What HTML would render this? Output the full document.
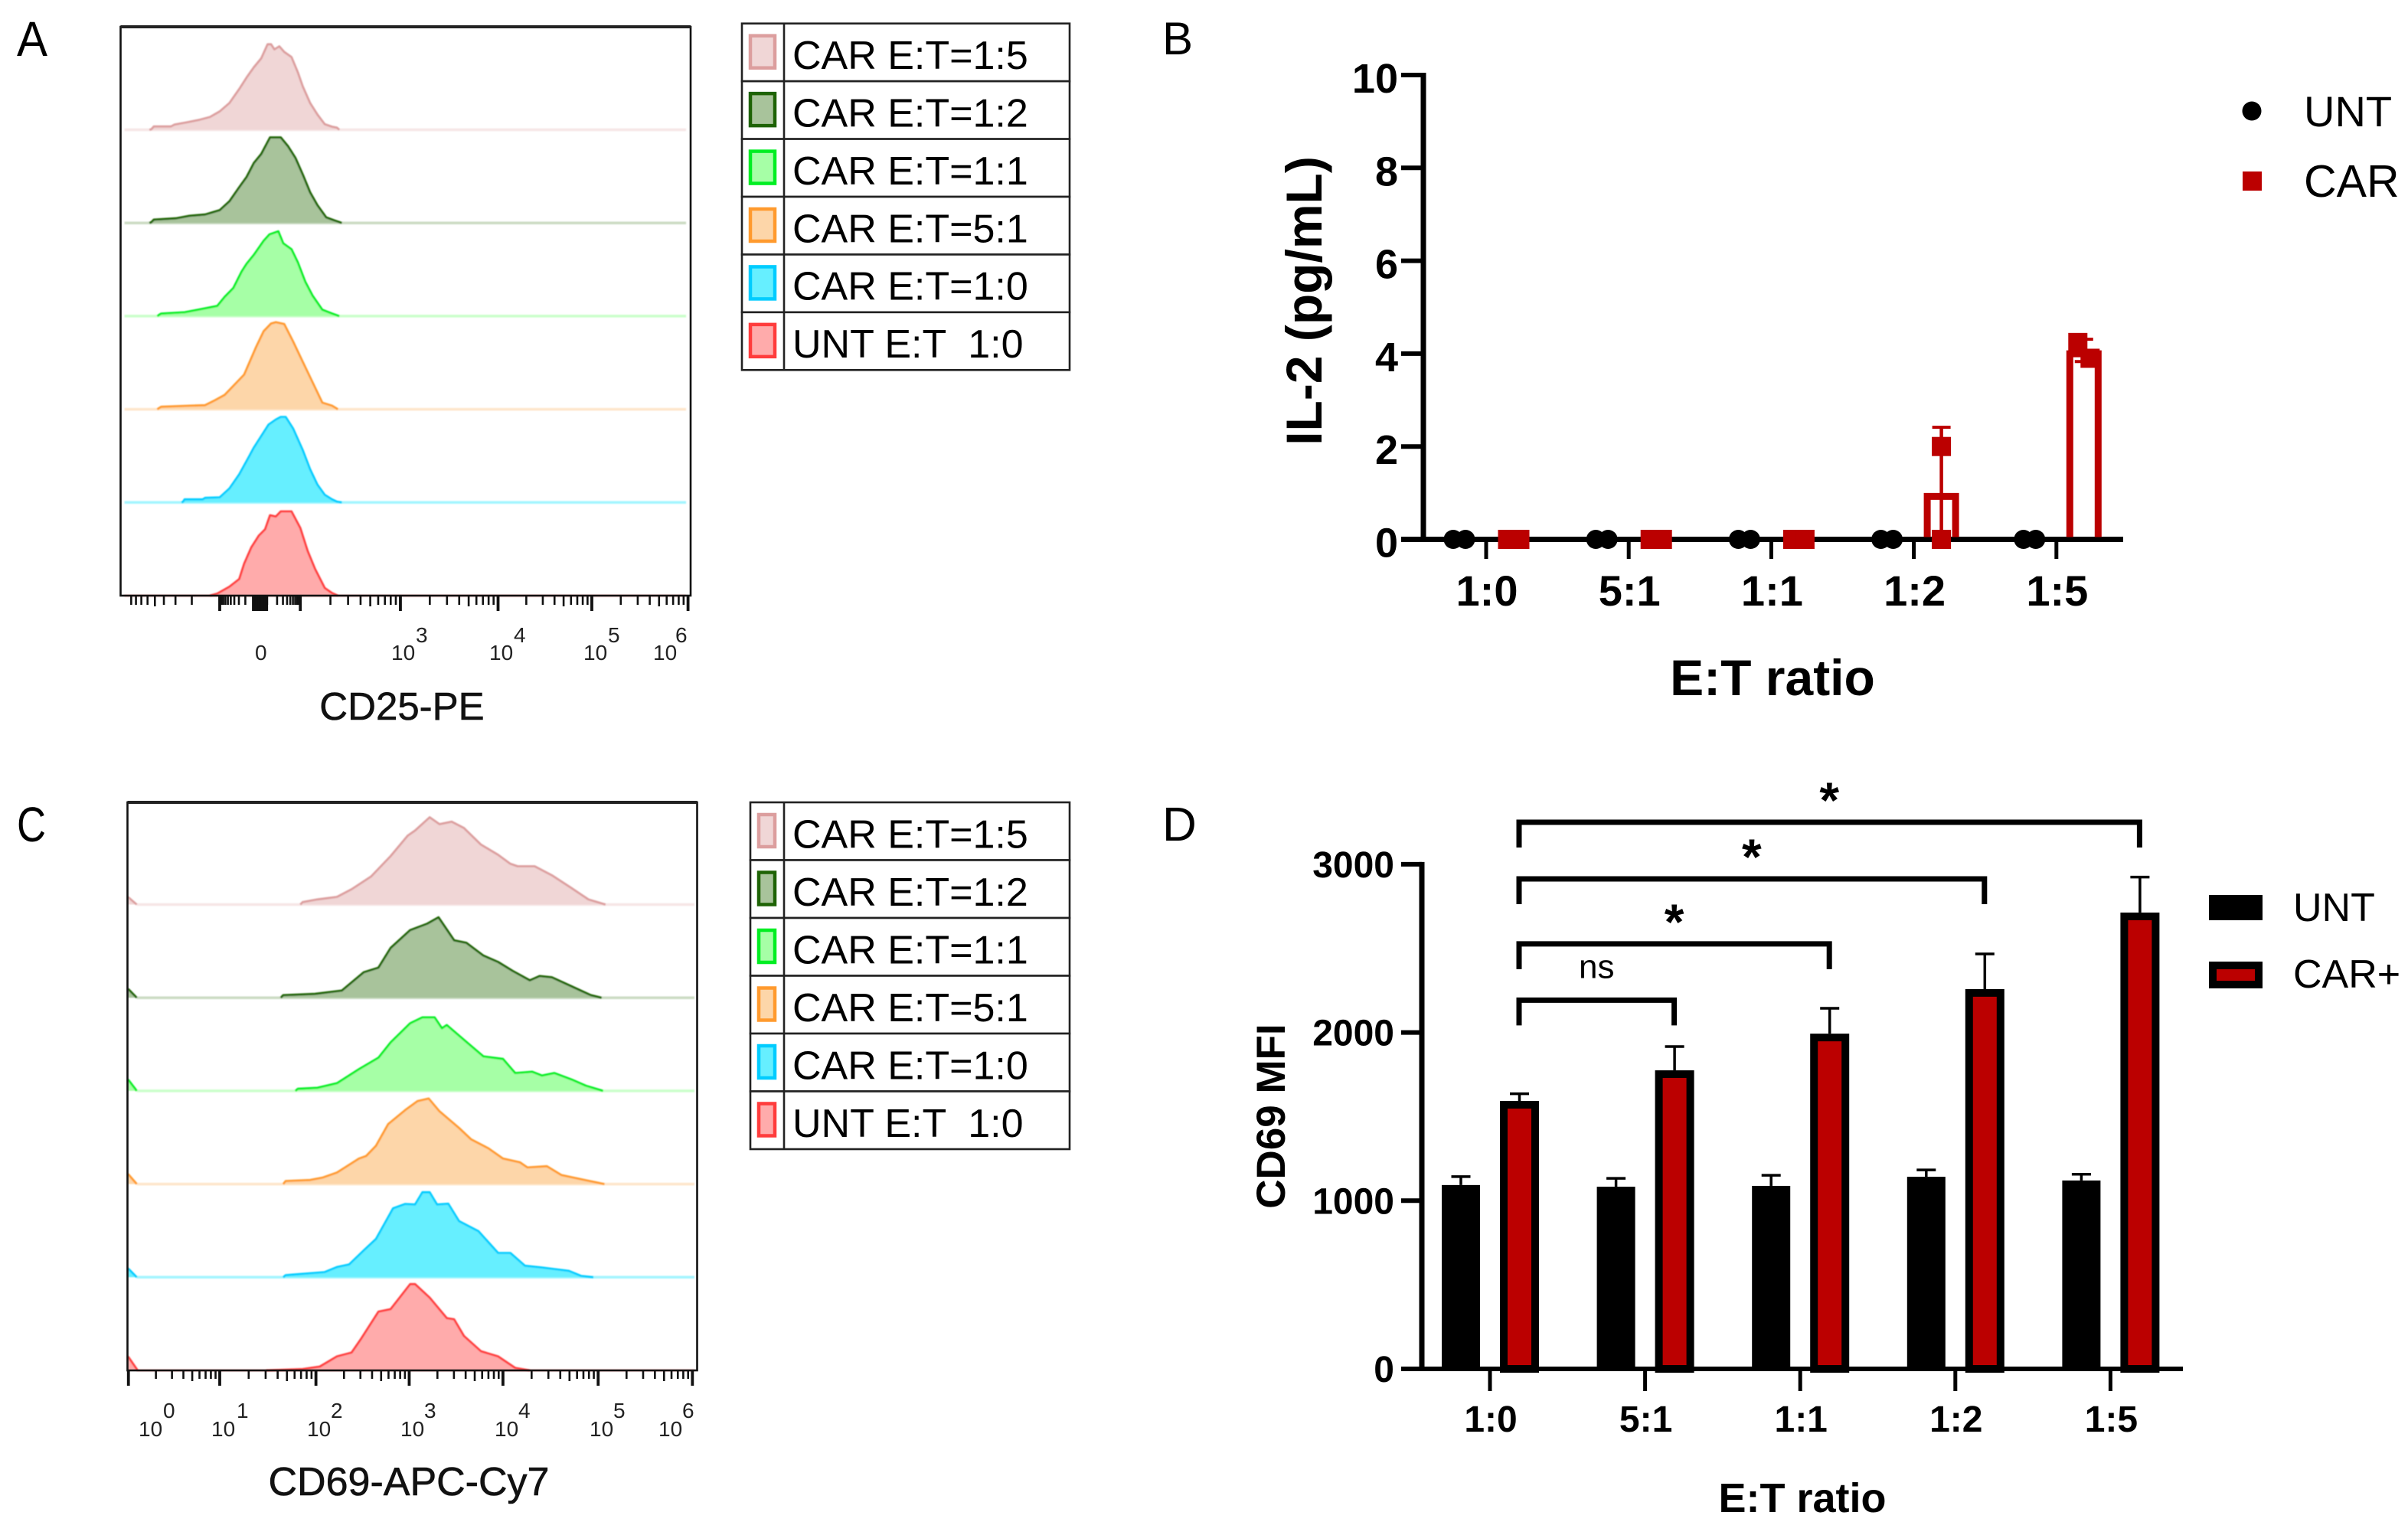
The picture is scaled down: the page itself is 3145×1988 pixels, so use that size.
<!DOCTYPE html>
<html lang="en">
<head>
<meta charset="utf-8">
<title>CD25, IL-2 and CD69 response by E:T ratio</title>
<style>
html,body{margin:0;padding:0;background:#fff}
svg{display:block}
text{font-family:"Liberation Sans",Arial,sans-serif}
</style>
</head>
<body>
<svg id="figure" xmlns="http://www.w3.org/2000/svg" width="3145" height="1988" viewBox="0 0 3145 1988">
<defs><filter id="soft" x="-2%" y="-2%" width="104%" height="104%"><feGaussianBlur stdDeviation="0.7"/></filter></defs>
<rect x="0" y="0" width="3145" height="1988" fill="#fff"/>

<text x="22" y="73" font-size="64" textLength="40" lengthAdjust="spacingAndGlyphs">A</text>
<text x="1518" y="71" font-size="60">B</text>
<text x="22" y="1099" font-size="64" textLength="38" lengthAdjust="spacingAndGlyphs">C</text>
<text x="1518" y="1098" font-size="62">D</text>

<g font-size="28" fill="#222">
<text x="333" y="862">0</text>
<text><tspan x="511" y="862">10</tspan><tspan x="543" y="839">3</tspan></text>
<text><tspan x="639" y="862">10</tspan><tspan x="671" y="839">4</tspan></text>
<text><tspan x="762" y="862">10</tspan><tspan x="794" y="839">5</tspan></text>
<text><tspan x="853" y="862">10</tspan><tspan x="882" y="839">6</tspan></text>
</g>
<text x="525" y="940" font-size="51" text-anchor="middle" fill="#111" stroke="#111" stroke-width="0.6">CD25-PE</text>

<g font-size="28" fill="#222">
<text><tspan x="181" y="1876">10</tspan><tspan x="213" y="1852">0</tspan></text>
<text><tspan x="276" y="1876">10</tspan><tspan x="309" y="1852">1</tspan></text>
<text><tspan x="401" y="1876">10</tspan><tspan x="432" y="1852">2</tspan></text>
<text><tspan x="523" y="1876">10</tspan><tspan x="554" y="1852">3</tspan></text>
<text><tspan x="646" y="1876">10</tspan><tspan x="677" y="1852">4</tspan></text>
<text><tspan x="770" y="1876">10</tspan><tspan x="801" y="1852">5</tspan></text>
<text><tspan x="860" y="1876">10</tspan><tspan x="891" y="1852">6</tspan></text>
</g>
<text x="534" y="1953" font-size="52" text-anchor="middle" fill="#111" stroke="#111" stroke-width="0.6">CD69-APC-Cy7</text>

<text transform="translate(1726 393) rotate(-90)" font-size="66" font-weight="700" text-anchor="middle">IL-2 (pg/mL)</text>
<text x="2315" y="908" font-size="66" font-weight="700" text-anchor="middle">E:T ratio</text>
<text transform="translate(1678 1458) rotate(-90)" font-size="53" font-weight="700" text-anchor="middle">CD69 MFI</text>
<text x="2354" y="1975" font-size="54" font-weight="700" text-anchor="middle">E:T ratio</text>

<g>
<circle cx="2941" cy="145" r="12.5" fill="#000"/>
<text x="3009" y="165" font-size="56">UNT</text>
<rect x="2929" y="224" width="25" height="25" fill="#bb0000"/>
<text x="3009" y="257" font-size="59">CAR</text>
</g>
<g>
<rect x="2885" y="1169" width="70" height="33" fill="#000"/>
<text x="2995" y="1203" font-size="52">UNT</text>
<rect x="2890" y="1261" width="60" height="25" fill="#bb0000" stroke="#000" stroke-width="10"/>
<text x="2995" y="1290" font-size="52">CAR+</text>
</g>
</svg>

<script>
// ---- Panel A: CD25-PE histograms (channel, count) ----
const cd25Car15Channels = [306,310,315,350,357,385,410,430,450,470,490,505,520,535,548,555,562,572,582,597,610,620,635,650,665,680,690,695];
const cd25Car15Counts   = [0,2,13,13,20,30,40,50,72,105,160,205,245,280,335,335,315,327,305,285,225,170,105,60,22,12,8,0];
const cd25Car12Channels = [306,310,315,360,388,420,450,470,490,505,520,535,553,575,590,605,620,635,650,668,685,700];
const cd25Car12Counts   = [0,3,13,18,28,33,50,85,140,180,235,270,335,335,300,255,190,120,70,22,10,0];
const cd25Car11Channels = [322,325,330,378,405,445,460,478,495,505,520,540,552,570,580,597,610,625,640,660,680,695];
const cd25Car11Counts   = [0,4,10,15,25,40,75,110,175,205,240,295,320,332,285,262,210,135,80,25,10,0];
const cd25Car51Channels = [322,325,330,390,420,440,460,485,500,525,540,555,565,582,600,620,640,660,680,692];
const cd25Car51Counts   = [0,4,10,14,16,35,56,106,136,246,306,336,341,334,266,186,106,26,14,0];
const cd25Car10Channels = [372,375,378,415,420,450,470,490,510,520,535,550,565,575,585,600,620,635,650,665,680,690,700];
const cd25Car10Counts   = [0,3,12,12,18,20,55,110,180,215,260,305,325,335,335,290,205,130,70,30,12,3,0];
const cd25Unt10Channels = [430,445,470,490,500,515,530,543,553,565,575,597,615,630,645,665,680,692];
const cd25Unt10Counts   = [0,8,35,65,125,190,235,260,315,310,330,330,265,175,105,30,10,0];

// ---- Panel C: CD69-APC-Cy7 histograms (channel, count) ----
const cd69Car15Channels = [262,280,615,620,650,690,720,760,800,835,850,880,900,925,950,985,1020,1045,1060,1095,1130,1170,1205,1240];
const cd69Car15Counts   = [30,0,0,10,20,30,60,110,190,270,290,342,315,325,300,235,195,160,150,150,115,65,20,0];
const cd69Car12Channels = [262,280,575,580,645,700,745,775,800,840,875,898,930,955,990,1020,1050,1085,1105,1130,1170,1210,1232];
const cd69Car12Counts   = [35,0,0,10,15,28,100,118,195,265,290,315,225,215,165,140,105,68,85,80,45,10,0];
const cd69Car11Channels = [262,280,605,610,650,690,735,775,800,840,865,890,905,915,950,990,1030,1055,1090,1110,1135,1170,1200,1235];
const cd69Car11Counts   = [45,0,0,8,12,30,85,130,190,265,288,288,245,258,200,135,125,70,75,60,70,45,20,0];
const cd69Car51Channels = [262,280,580,585,635,660,690,735,750,770,795,830,855,878,900,940,965,1000,1030,1065,1080,1120,1150,1200,1238];
const cd69Car51Counts   = [40,0,0,12,16,25,45,100,110,150,235,290,325,335,285,220,175,140,100,85,65,70,35,15,0];
const cd69Car10Channels = [262,280,580,585,625,665,690,715,745,770,805,830,850,865,880,895,918,940,980,1020,1045,1075,1110,1165,1190,1215];
const cd69Car10Counts   = [35,0,0,8,14,20,40,50,105,150,270,287,285,333,333,285,288,220,180,95,95,45,38,25,5,0];
const cd69Unt10Channels = [262,282,545,620,655,690,720,740,775,800,840,850,880,915,930,950,985,1020,1055,1085];
const cd69Unt10Counts   = [55,0,0,5,15,55,70,125,230,240,338,338,285,205,200,135,75,55,10,0];

const histLabels = ['CAR E:T=1:5','CAR E:T=1:2','CAR E:T=1:1','CAR E:T=5:1','CAR E:T=1:0','UNT E:T  1:0'];
const histKeys   = ['car-1-5','car-1-2','car-1-1','car-5-1','car-1-0','unt-1-0'];
const lineColors = ['#dc9e9e','#1e6305','#00ee22','#ff9a2e','#00ccff','#ff3c3c'];
const fillColors = ['#f0d6d6','#a8c39b','#a6ffa6','#fdd6a9','#66efff','#ffabab'];

// ---- Panel B: IL-2 ----
const ratioLabels = ['1:0','5:1','1:1','1:2','1:5'];
const il2YTicks   = [0,2,4,6,8,10];
const il2Unt10 = [0,0];
const il2Unt51 = [0,0];
const il2Unt11 = [0,0];
const il2Unt12 = [0,0];
const il2Unt15 = [0,0];
const il2Car10 = [0,0];
const il2Car51 = [0,0];
const il2Car11 = [0,0];
const il2Car12 = [0,2];
const il2Car15 = [4.24,3.9];

// ---- Panel D: CD69 MFI ----
const mfiYTicks  = [0,1000,2000,3000];
const mfiUntMean = [1093,1083,1088,1142,1120];
const mfiUntSd   = [50,50,63,41,37];
const mfiCarMean = [1593,1775,1993,2258,2713];
const mfiCarSd   = [43,141,151,209,211];
const sigToIndex = [1,2,3,4];
const sigLevels  = [2192,2527,2913,3250];
const sigLabels  = ['ns','*','*','*'];

// ---- helpers ----
const svg = document.getElementById('figure');
const NS = 'http://www.w3.org/2000/svg';
function make(tag, attrs, parent, text) {
  const n = document.createElementNS(NS, tag);
  for (const k in attrs) n.setAttribute(k, attrs[k]);
  if (text !== undefined) n.textContent = text;
  (parent || svg).appendChild(n);
  return n;
}
function log10(v) { return Math.log(v) / Math.LN10; }

// ---- flow-cytometry axes ----
const chX = function (c) { return c / 1.568; };
const countPx = function (c) { return c / 3; };
const rowStep = 121.7;

function drawHistogramPanel(panel, boxLeft, boxRight, boxTop, boxBottom, lineStart, lineEnd, channels, counts) {
  const g = make('g', {filter: 'url(#soft)'});
  
  
  channels.forEach(function (xs, i) {
    const hs = counts[i];
    const base = boxBottom - (5 - i) * rowStep;
    const row = make('g', {}, g);
    
    
    const band = make('line', {x1: chX(lineStart), x2: chX(lineEnd), y1: base, y2: base, stroke: fillColors[i], 'stroke-width': 3.5, 'stroke-opacity': 0.6}, row);
    
    
    let area = 'M' + chX(xs[0]) + ' ' + base;
    xs.forEach(function (x, j) { area += 'L' + chX(x).toFixed(1) + ' ' + (base - countPx(hs[j])).toFixed(1); });
    area += 'L' + chX(xs[xs.length - 1]) + ' ' + base + 'Z';
    const fill = make('path', {d: area, fill: fillColors[i]}, row);
    
    
    let outline = '';
    let pen = false;
    xs.forEach(function (x, j) {
      const flat = hs[j] === 0 && (j === xs.length - 1 || hs[j + 1] === 0);
      const pt = chX(x).toFixed(1) + ' ' + (base - countPx(hs[j])).toFixed(1);
      if (!pen) { outline += 'M' + pt; pen = true; } else { outline += 'L' + pt; }
      if (flat) pen = false;
    });
    const curve = make('path', {d: outline, fill: 'none', stroke: lineColors[i], 'stroke-width': 2.8, 'stroke-linejoin': 'round'}, row);
    
    
  });
  const box = make('rect', {x: boxLeft, y: boxTop, width: boxRight - boxLeft, height: boxBottom - boxTop, fill: 'none', stroke: '#111', 'stroke-width': 2.6});
  
  
  const topEdge = make('line', {x1: boxLeft, x2: boxRight, y1: boxTop, y2: boxTop, stroke: '#222', 'stroke-width': 4});
  
  
}

function drawTick(panel, channel, y0, y1, w, kind) {
  const t = make('line', {x1: chX(channel), x2: chX(channel), y1: y0, y2: y1, stroke: '#111', 'stroke-width': w});
  
  
}
function drawLogTicks(panel, startCh, endCh, y0, yMinor, yMid) {
  for (let m = 2; m <= 9; m++) {
    drawTick(panel, startCh + (endCh - startCh) * log10(m), y0, m === 5 ? yMid : yMinor, 2.6, 'minor');
  }
}

drawHistogramPanel('panel-a', 157.5, 902, 35, 778, 255, 1405,
  [cd25Car15Channels, cd25Car12Channels, cd25Car11Channels, cd25Car51Channels, cd25Car10Channels, cd25Unt10Channels],
  [cd25Car15Counts, cd25Car12Counts, cd25Car11Counts, cd25Car51Counts, cd25Car10Counts, cd25Unt10Counts]);

drawHistogramPanel('panel-c', 166.5, 910.5, 1048, 1790, 280, 1422,
  [cd69Car15Channels, cd69Car12Channels, cd69Car11Channels, cd69Car51Channels, cd69Car10Channels, cd69Unt10Channels],
  [cd69Car15Counts, cd69Car12Counts, cd69Car11Counts, cd69Car51Counts, cd69Car10Counts, cd69Unt10Counts]);

// Panel A ticks (biexponential)
const cd25Majors = [450,615,820,1020,1212,1409];
const linearTicks = [10,20,30,40,50,60,70,80,90];
cd25Majors.forEach(function (c) { drawTick('panel-a', c, 778, 798, 3.8, 'major'); });
for (let c = 519; c <= 546; c += 3) drawTick('panel-a', c, 778, 798, 3.8, 'zero-band');
drawLogTicks('panel-a', 820, 1020, 778, 790, 792);
drawLogTicks('panel-a', 1020, 1212, 778, 790, 792);
drawLogTicks('panel-a', 1212, 1409, 778, 790, 792);
drawLogTicks('panel-a', 615, 820, 778, 790, 792);
drawLogTicks('panel-a', 450, 260, 778, 790, 792);
linearTicks.forEach(function (t) {
  drawTick('panel-a', 450 + 75 * log10(100 / t), 778, 790, 2.6, 'minor');
  drawTick('panel-a', 615 - 68 * log10(100 / t), 778, 790, 2.6, 'minor');
});

// Panel C ticks (log)
const cd69Majors = [263,450,647,838,1030,1225,1418];
cd69Majors.forEach(function (c, i) {
  drawTick('panel-c', c, 1790, 1810, 3.8, 'major');
  if (i < cd69Majors.length - 1) drawLogTicks('panel-c', c, cd69Majors[i + 1], 1790, 1801, 1804);
});

// Flow legends
function drawHistLegend(panel, left, divider, right, top, bottom, swatchLeft, swatchRight, swatchPad) {
  const g = make('g', {});
  
  
  const rowH = (bottom - top) / histLabels.length;
  histLabels.forEach(function (label, i) {
    const y = top + i * rowH;
    const cell = make('rect', {x: left, y: y, width: right - left, height: rowH, fill: '#fff', stroke: '#222', 'stroke-width': 2.6}, g);
    
    
    const swatch = make('rect', {x: swatchLeft, y: y + swatchPad, width: swatchRight - swatchLeft, height: 42, fill: fillColors[i], stroke: lineColors[i], 'stroke-width': 4.5}, g);
    
    
    const text = make('text', {x: 1035, y: y + 59.3, 'font-size': 52, 'xml:space': 'preserve', style: 'white-space:pre'}, g, label);
    
    
  });
  const div = make('line', {x1: divider, x2: divider, y1: top, y2: bottom, stroke: '#222', 'stroke-width': 2.6}, g);
  
  
}
drawHistLegend('panel-a', 969, 1024, 1397, 30.7, 483.3, 980, 1012, 16);
drawHistLegend('panel-c', 980, 1024, 1397, 1048, 1501, 991, 1012, 16);

// ---- Panel B ----
const il2Ticks = function (i) { return 1941 + i * 186.2; };
const yIl2 = function (v) { return 704.5 - 60.65 * v; };
const il2UntSets = [il2Unt10, il2Unt51, il2Unt11, il2Unt12, il2Unt15];
const il2CarSets = [il2Car10, il2Car51, il2Car11, il2Car12, il2Car15];
function mean(a) { return a.reduce(function (s, v) { return s + v; }, 0) / a.length; }
function stdev(a) {
  const m = mean(a);
  return Math.sqrt(a.reduce(function (s, v) { return s + (v - m) * (v - m); }, 0) / (a.length - 1));
}
function swarmOffset(a, j) {
  return Math.abs(a[0] - a[1]) < 0.45 ? (j === 0 ? -8 : 8) : 0;
}

const il2YAxis = make('line', {x1: 1859, x2: 1859, y1: yIl2(10) - 3, y2: yIl2(0), stroke: '#000', 'stroke-width': 7});


const il2XAxis = make('line', {x1: 1830, x2: 2773, y1: yIl2(0), y2: yIl2(0), stroke: '#000', 'stroke-width': 7});


il2YTicks.forEach(function (v) {
  const t = make('line', {x1: 1830, x2: 1859, y1: yIl2(v), y2: yIl2(v), stroke: '#000', 'stroke-width': 6});
  
  
  const l = make('text', {x: 1826, y: yIl2(v) + 23, 'font-size': 54, 'font-weight': 700, 'text-anchor': 'end'}, svg, String(v));
  
  
});
ratioLabels.forEach(function (label, i) {
  const tx = il2Ticks(i);
  const t = make('line', {x1: tx, x2: tx, y1: 704, y2: 730, stroke: '#000', 'stroke-width': 5});
  
  
  const l = make('text', {x: tx + 1, y: 791, 'font-size': 56, 'font-weight': 700, 'text-anchor': 'middle'}, svg, label);
  
  

  const cx = tx + 36;
  const car = il2CarSets[i];
  const m = mean(car);
  const sd = stdev(car);
  if (m > 0) {
    const topY = yIl2(m) + 4.5;
    const bar = make('path', {d: 'M' + (cx - 18.5) + ' ' + (yIl2(0) - 3) + 'V' + topY + 'H' + (cx + 18.5) + 'V' + (yIl2(0) - 3), fill: 'none', stroke: '#bb0000', 'stroke-width': 9});
    
    
    const hi = m + sd;
    const lo = Math.max(0, m - sd);
    const stem = make('line', {x1: cx, x2: cx, y1: yIl2(hi), y2: yIl2(lo), stroke: '#bb0000', 'stroke-width': 4.5});
    
    
    const capHi = make('line', {x1: cx - 12, x2: cx + 12, y1: yIl2(hi), y2: yIl2(hi), stroke: '#bb0000', 'stroke-width': 4});
    
    
    const capLo = make('line', {x1: cx - 12, x2: cx + 12, y1: yIl2(lo), y2: yIl2(lo), stroke: '#bb0000', 'stroke-width': 4});
    
    
  }
  car.forEach(function (v, j) {
    const sq = make('rect', {x: cx + swarmOffset(car, j) - 12.5, y: yIl2(v) - 12.5, width: 25, height: 25, fill: '#bb0000'});
    
    
  });
  const unt = il2UntSets[i];
  unt.forEach(function (v, j) {
    const c = make('circle', {cx: tx - 35 + swarmOffset(unt, j), cy: yIl2(v), r: 12.5, fill: '#000'});
    
    
  });
});

// ---- Panel D ----
const mfiTick = function (i) { return 1946 + i * 202.6; };
const yMfi = function (v) { return 1788 - 0.2197 * v; };

function drawErrorBar(name, cx, fromV, toV) {
  const stem = make('line', {x1: cx, x2: cx, y1: yMfi(fromV), y2: yMfi(toV), stroke: '#000', 'stroke-width': 3.5});
  
  
  const cap = make('line', {x1: cx - 12.5, x2: cx + 12.5, y1: yMfi(toV), y2: yMfi(toV), stroke: '#000', 'stroke-width': 3.5});
  
  
}

ratioLabels.forEach(function (label, i) {
  const tx = mfiTick(i);
  const ux = tx - 38;
  const cx = tx + 38.5;
  drawErrorBar('mfi-error-bar-unt-' + label, ux, mfiUntMean[i], mfiUntMean[i] + mfiUntSd[i]);
  drawErrorBar('mfi-error-bar-car-' + label, cx, mfiCarMean[i], mfiCarMean[i] + mfiCarSd[i]);
  const ub = make('rect', {x: ux - 25, y: yMfi(mfiUntMean[i]), width: 50, height: yMfi(0) - yMfi(mfiUntMean[i]), fill: '#000'});
  
  
  const cb = make('rect', {x: cx - 20.5, y: yMfi(mfiCarMean[i]) + 5, width: 41, height: yMfi(0) - yMfi(mfiCarMean[i]) - 5, fill: '#bb0000', stroke: '#000', 'stroke-width': 10});
  
  
  const t = make('line', {x1: tx, x2: tx, y1: 1788, y2: 1817, stroke: '#000', 'stroke-width': 5});
  
  
  const l = make('text', {x: tx + 1, y: 1870, 'font-size': 48, 'font-weight': 700, 'text-anchor': 'middle'}, svg, label);
  
  
});

const mfiYAxis = make('line', {x1: 1857, x2: 1857, y1: yMfi(3000) - 3, y2: yMfi(0), stroke: '#000', 'stroke-width': 7});


const mfiXAxis = make('line', {x1: 1830, x2: 2851, y1: yMfi(0), y2: yMfi(0), stroke: '#000', 'stroke-width': 6});


mfiYTicks.forEach(function (v) {
  const t = make('line', {x1: 1830, x2: 1857, y1: yMfi(v), y2: yMfi(v), stroke: '#000', 'stroke-width': 6});
  
  
  const l = make('text', {x: 1821, y: yMfi(v) + 17, 'font-size': 48, 'font-weight': 700, 'text-anchor': 'end'}, svg, String(v));
  
  
});

sigToIndex.forEach(function (idx, i) {
  const left = mfiTick(0) + 38;
  const right = mfiTick(idx) + 38;
  const y = yMfi(sigLevels[i]);
  const br = make('path', {d: 'M' + left + ' ' + (y + 33) + 'V' + y + 'H' + right + 'V' + (y + 33), fill: 'none', stroke: '#000', 'stroke-width': 7});
  
  
  const mid = (left + right) / 2;
  const isStar = sigLabels[i] === '*';
  const lab = make('text', {x: mid, y: isStar ? y - 6 : y - 29, 'font-size': isStar ? 66 : 44, 'font-weight': isStar ? 700 : 400, 'text-anchor': 'middle'}, svg, sigLabels[i]);
  
  
});
</script>
</body>
</html>
